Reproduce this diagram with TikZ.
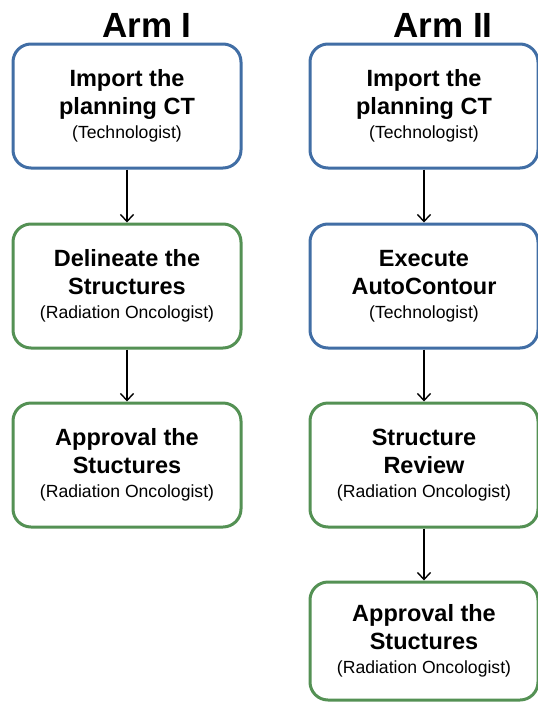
\documentclass[tikz,border=0pt]{standalone}
\usepackage{fontspec}
\setmainfont{Liberation Sans}
\usetikzlibrary{arrows.meta}

\definecolor{boxblue}{RGB}{65,110,165}
\definecolor{boxgreen}{RGB}{84,145,84}

% two bold lines and the person in charge underneath
\newcommand{\steptext}[3]{#1\\#2\\[-4pt]
	\mdseries\fontsize{17.6}{22}\selectfont(#3)}

\begin{document}
\begin{tikzpicture}[x=1pt,y=1pt,
		stepbox/.style={draw,line width=3pt,rounded corners=18pt,fill=white,
			minimum width=228pt,minimum height=124pt,align=center,inner sep=0pt,
			font=\bfseries\fontsize{23.5}{28}\selectfont},
		bluebox/.style={stepbox,draw=boxblue},
		greenbox/.style={stepbox,draw=boxgreen},
		arr/.style={line width=1.4pt,-{Straight Barb[length=7pt,width=13pt]}},
		armtitle/.style={font=\bfseries\fontsize{35}{40}\selectfont,anchor=base,inner sep=0pt}]
			\useasboundingbox (0,0) rectangle (538,-702);

			% Arm I
			\node[armtitle] (t1) at (147,-37) {Arm I};
			\node[bluebox] (a1) at (127,-106) {\steptext{Import the}{planning CT}{Technologist}};
			\node[greenbox] (a2) at (127,-286) {\steptext{Delineate the}{Structures}{Radiation Oncologist}};
			\node[greenbox] (a3) at (127,-465) {\steptext{Approval the}{Stuctures}{Radiation Oncologist}};
			\draw[arr] (a1) -- (a2);
			\draw[arr] (a2) -- (a3);

			% Arm II
			\node[armtitle] (t2) at (443,-37) {Arm II};
			\node[bluebox] (b1) at (424,-106) {\steptext{Import the}{planning CT}{Technologist}};
			\node[bluebox] (b2) at (424,-286) {\steptext{Execute}{AutoContour}{Technologist}};
			\node[greenbox] (b3) at (424,-465) {\steptext{Structure}{Review}{Radiation Oncologist}};
			\node[greenbox,minimum height=118pt] (b4) at (424,-641) {\steptext{Approval the}{Stuctures}{Radiation Oncologist}};
			\draw[arr] (b1) -- (b2);
			\draw[arr] (b2) -- (b3);
			\draw[arr] (b3) -- (b4);
		\end{tikzpicture}
\end{document}
